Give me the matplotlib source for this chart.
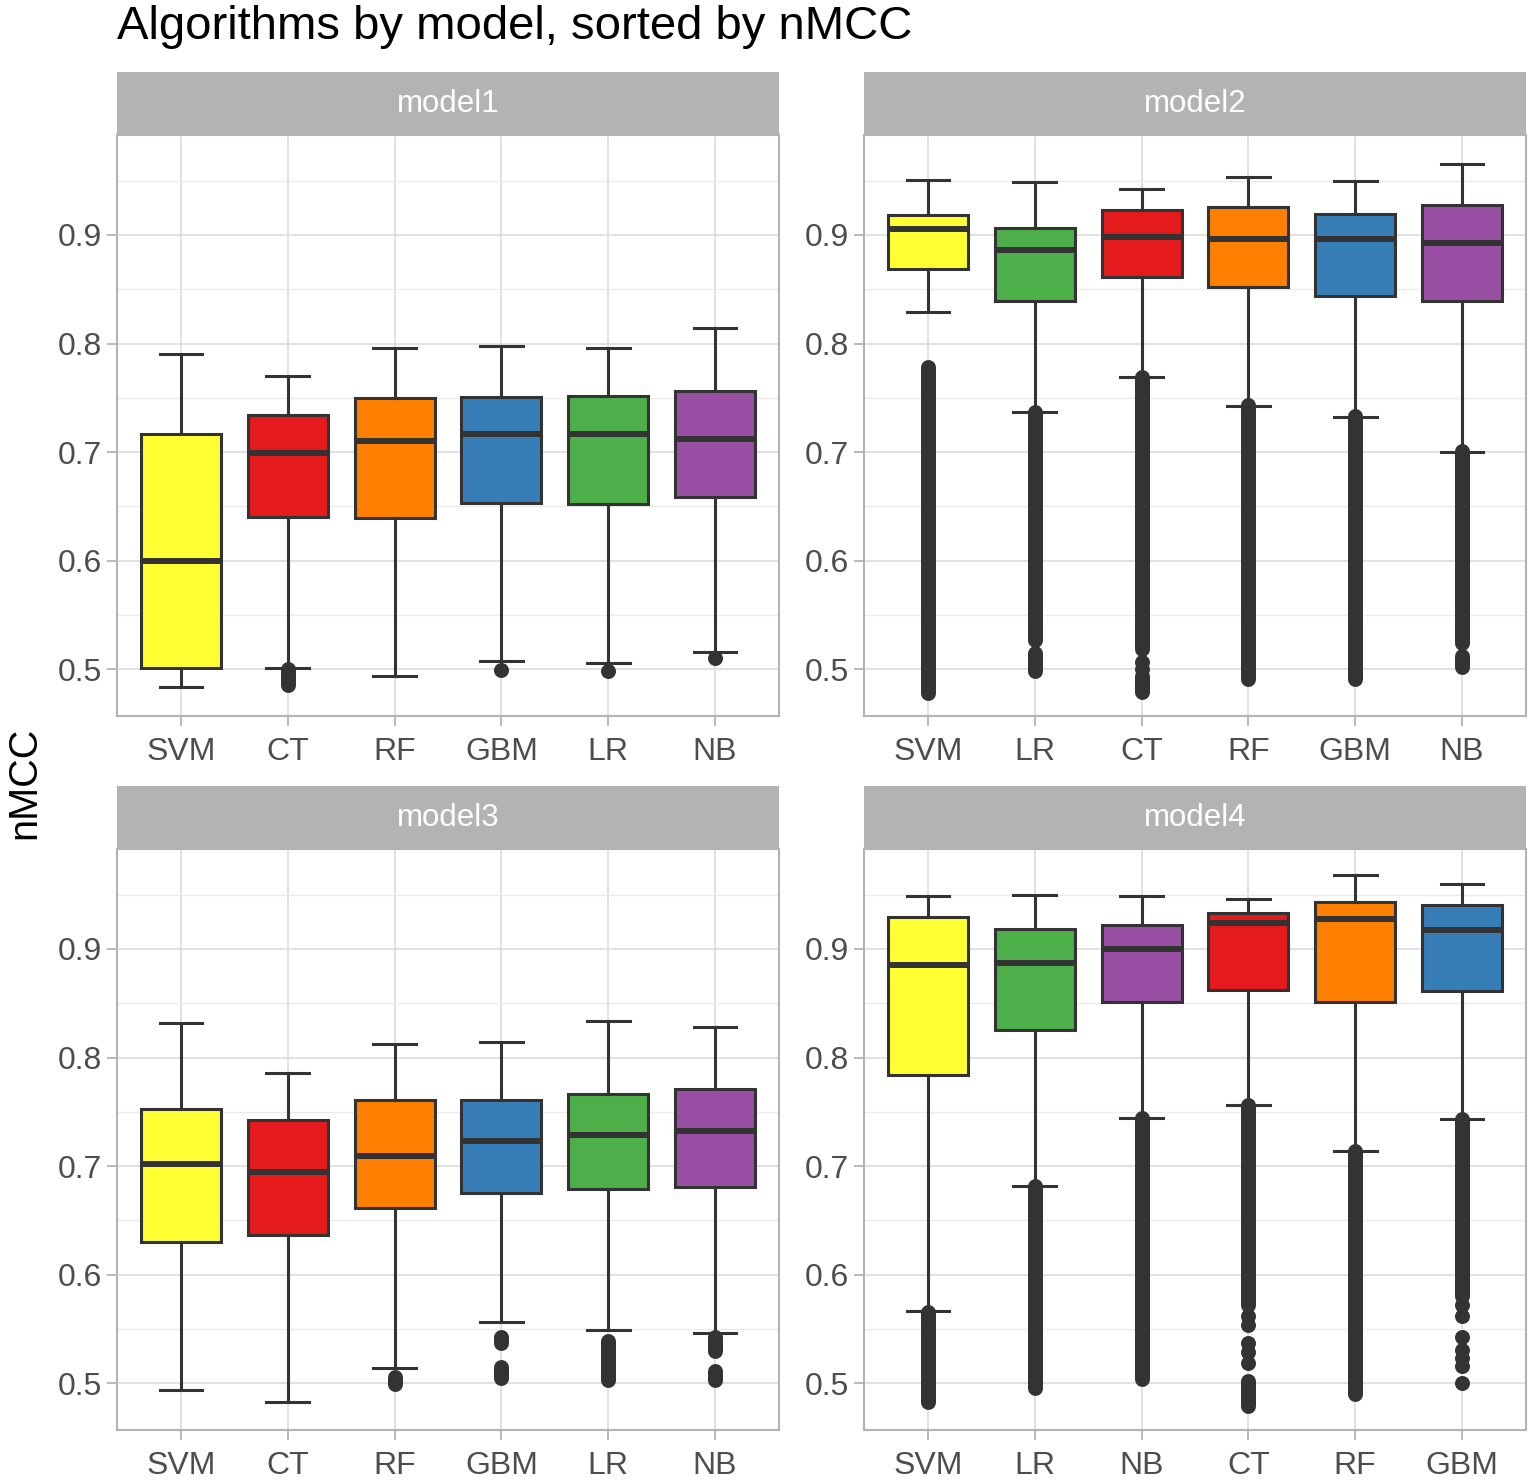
import matplotlib
matplotlib.use("Agg")
import matplotlib.pyplot as plt

plt.rcParams['font.family'] = ['Liberation Sans', 'DejaVu Sans']

# ---------------- data ----------------
models = ["model1", "model2", "model3", "model4"]

order_m1 = ["SVM", "CT", "RF", "GBM", "LR", "NB"]
order_m2 = ["SVM", "LR", "CT", "RF", "GBM", "NB"]
order_m3 = ["SVM", "CT", "RF", "GBM", "LR", "NB"]
order_m4 = ["SVM", "LR", "NB", "CT", "RF", "GBM"]

# box stats per model, same order as above: whisker low, Q1, median, Q3, whisker high
whislo_m1 = [0.484, 0.501, 0.494, 0.508, 0.506, 0.516]
q1_m1     = [0.501, 0.640, 0.639, 0.653, 0.652, 0.659]
med_m1    = [0.600, 0.699, 0.710, 0.717, 0.717, 0.712]
q3_m1     = [0.717, 0.734, 0.750, 0.751, 0.752, 0.756]
whishi_m1 = [0.790, 0.770, 0.796, 0.798, 0.796, 0.814]

whislo_m2 = [0.829, 0.737, 0.769, 0.742, 0.732, 0.700]
q1_m2     = [0.869, 0.839, 0.861, 0.852, 0.844, 0.839]
med_m2    = [0.905, 0.886, 0.898, 0.896, 0.896, 0.893]
q3_m2     = [0.918, 0.906, 0.923, 0.926, 0.919, 0.928]
whishi_m2 = [0.951, 0.949, 0.942, 0.953, 0.950, 0.965]

whislo_m3 = [0.494, 0.483, 0.514, 0.556, 0.549, 0.546]
q1_m3     = [0.630, 0.637, 0.661, 0.675, 0.679, 0.681]
med_m3    = [0.702, 0.695, 0.709, 0.723, 0.729, 0.732]
q3_m3     = [0.753, 0.742, 0.761, 0.761, 0.766, 0.771]
whishi_m3 = [0.832, 0.786, 0.812, 0.814, 0.834, 0.828]

whislo_m4 = [0.567, 0.682, 0.744, 0.756, 0.714, 0.743]
q1_m4     = [0.784, 0.825, 0.851, 0.862, 0.851, 0.861]
med_m4    = [0.885, 0.887, 0.900, 0.924, 0.928, 0.917]
q3_m4     = [0.929, 0.918, 0.922, 0.933, 0.943, 0.940]
whishi_m4 = [0.949, 0.950, 0.949, 0.946, 0.968, 0.960]

# outliers: dense runs of points (low, high) and single points, per algorithm
runs_m1 = {"CT": [(0.486, 0.500)]}
pts_m1 = {"GBM": [0.499], "LR": [0.498], "NB": [0.510]}

runs_m2 = {"SVM": [(0.478, 0.778)], "LR": [(0.527, 0.737), (0.498, 0.515)],
           "CT": [(0.519, 0.769), (0.479, 0.494)], "RF": [(0.491, 0.743)],
           "GBM": [(0.491, 0.733)], "NB": [(0.524, 0.701), (0.502, 0.512)]}
pts_m2 = {"CT": [0.507, 0.500]}

runs_m3 = {"RF": [(0.499, 0.506)], "GBM": [(0.537, 0.543), (0.505, 0.515)],
           "LR": [(0.503, 0.539)], "NB": [(0.530, 0.543), (0.503, 0.511)]}
pts_m3 = {}

runs_m4 = {"SVM": [(0.483, 0.566)], "LR": [(0.496, 0.682)], "NB": [(0.504, 0.744)],
           "CT": [(0.572, 0.756), (0.479, 0.502)], "RF": [(0.490, 0.714)],
           "GBM": [(0.580, 0.743)]}
pts_m4 = {"CT": [0.562, 0.554, 0.537, 0.529, 0.519],
          "GBM": [0.572, 0.562, 0.543, 0.531, 0.523, 0.516, 0.500]}

colors = {"SVM": "#FFFF33", "CT": "#E41A1C", "RF": "#FF7F00",
          "GBM": "#377EB8", "LR": "#4DAF4A", "NB": "#984EA3"}

y_ticks = [0.5, 0.6, 0.7, 0.8, 0.9]
y_minor = [0.55, 0.65, 0.75, 0.85, 0.95]
title = "Algorithms by model, sorted by nMCC"
ylabel = "nMCC"

panels = [
    (models[0], order_m1, whislo_m1, q1_m1, med_m1, q3_m1, whishi_m1, runs_m1, pts_m1),
    (models[1], order_m2, whislo_m2, q1_m2, med_m2, q3_m2, whishi_m2, runs_m2, pts_m2),
    (models[2], order_m3, whislo_m3, q1_m3, med_m3, q3_m3, whishi_m3, runs_m3, pts_m3),
    (models[3], order_m4, whislo_m4, q1_m4, med_m4, q3_m4, whishi_m4, runs_m4, pts_m4),
]

# ---------------- layout ----------------
W, H = 1535, 1482
fig = plt.figure(figsize=(W / 100, H / 100), dpi=100)

lefts = [117, 864]
tops = [135, 849]
pw, ph = 662, 581
strip_h = 63

DARK = "#333333"
GRID = "#DEDEDE"
BORDER = "#B3B3B3"

for i, (name, order, wlo, q1, med, q3, whi, runs, pts) in enumerate(panels):
    L = lefts[i % 2]
    T = tops[i // 2]
    ax = fig.add_axes([L / W, (H - T - ph) / H, pw / W, ph / H])
    sax = fig.add_axes([L / W, (H - T) / H, pw / W, strip_h / H])

    pos = list(range(1, len(order) + 1))
    stats = []
    for k, alg in enumerate(order):
        stats.append(dict(med=med[k], q1=q1[k], q3=q3[k],
                          whislo=wlo[k], whishi=whi[k], fliers=[], label=alg))
    bp = ax.bxp(stats, positions=pos, widths=0.75, patch_artist=True,
                showfliers=False, manage_ticks=False,
                boxprops=dict(edgecolor=DARK, linewidth=2.2),
                medianprops=dict(color=DARK, linewidth=4.3, solid_capstyle='butt'),
                whiskerprops=dict(color=DARK, linewidth=2.2),
                capprops=dict(color=DARK, linewidth=2.2), capwidths=0.4,
                zorder=3)
    for patch, alg in zip(bp['boxes'], order):
        patch.set_facecolor(colors[alg])

    for k, alg in enumerate(order):
        for lo, hi in runs.get(alg, []):
            ax.vlines(pos[k], lo, hi, colors=DARK, linewidth=10.8,
                      capstyle='round', zorder=4)
        vals = pts.get(alg, [])
        if vals:
            ax.plot([pos[k]] * len(vals), vals, 'o', color=DARK,
                    markersize=10.8, markeredgewidth=0, zorder=4)

    ax.set_xlim(0.4, len(order) + 0.6)
    ax.set_ylim(0.457, 0.992)
    ax.set_xticks(pos)
    ax.set_xticklabels(order)
    ax.set_yticks(y_ticks)
    ax.set_yticklabels([f"{v:.1f}" for v in y_ticks])
    ax.set_yticks(y_minor, minor=True)
    ax.grid(True, which='major', color=GRID, linewidth=1.3, zorder=0)
    ax.grid(True, which='minor', axis='y', color="#EBEBEB", linewidth=1.0, zorder=0)
    ax.set_axisbelow(True)
    ax.tick_params(axis='both', which='major', length=7, width=1.3, color=BORDER,
                   labelsize=23, labelcolor="#4D4D4D", pad=4)
    ax.tick_params(axis='x', which='major', pad=8)
    ax.tick_params(axis='y', which='minor', length=0)
    for sp in ax.spines.values():
        sp.set_color(BORDER)
        sp.set_linewidth(1.5)

    sax.set_facecolor(BORDER)
    sax.set_xticks([])
    sax.set_yticks([])
    for sp in sax.spines.values():
        sp.set_visible(False)
    sax.text(0.5, 0.5, name, transform=sax.transAxes, ha='center', va='center',
             color='white', fontsize=22.5)

fig.text(117 / W, 1 - 27 / H, title, ha='left', va='center', fontsize=34, color='black')
fig.text(24 / W, 1 - 783 / H, ylabel, ha='center', va='center', rotation=90,
         fontsize=28.5, color='black')

fig.savefig("out.png", dpi=100, facecolor='white')
